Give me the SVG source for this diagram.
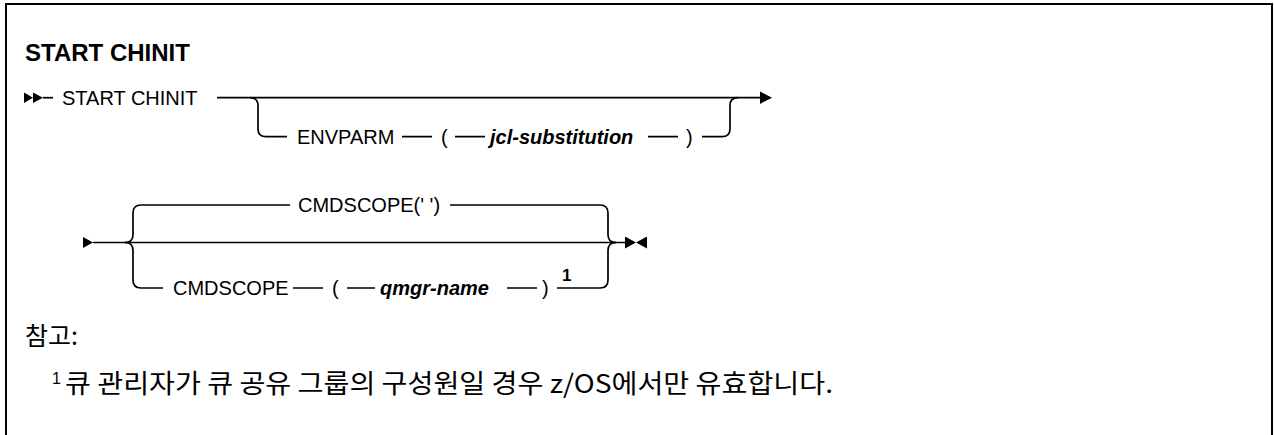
<svg xmlns="http://www.w3.org/2000/svg" width="1274" height="435" viewBox="0 0 1274 435">
<style>
.t{font-family:"Liberation Sans","Noto Sans",Arial,sans-serif;font-size:20px;fill:#000}
.v{font-family:"Liberation Sans","Noto Sans",Arial,sans-serif;font-size:20px;font-weight:bold;font-style:italic;fill:#000}
.ti{font-family:"Liberation Sans","Noto Sans",Arial,sans-serif;font-size:24px;font-weight:bold;fill:#000}
.k{font-family:"Noto Sans CJK KR","Liberation Sans",sans-serif;font-size:25px;fill:#000}
.kf{font-family:"Noto Sans CJK KR","Liberation Sans",sans-serif;font-size:26px;fill:#000}
.sup{font-family:"Liberation Sans","Noto Sans",Arial,sans-serif;font-size:16px;fill:#000}
.supb{font-family:"Liberation Sans","Noto Sans",Arial,sans-serif;font-size:17px;font-weight:bold;fill:#000}
.ln{fill:none;stroke:#000;stroke-width:1.7}
.ah{fill:#000}
</style>
<path d="M6,436 L6,4 L1272,4 L1272,436" fill="none" stroke="#000" stroke-width="2"/>
<text class="ti" x="25" y="61">START CHINIT</text>

<g id="row1">
  <g id="start">
    <polygon class="ah" points="24,92.5 33,97.7 24,102.9"/>
    <polygon class="ah" points="33,92.5 43,97.7 33,102.9"/>
    <text class="t" x="62" y="104.5">START CHINIT</text>
  </g>
  <g id="envparm">
    <text class="t" x="297" y="143.5">ENVPARM</text>
    <text class="t" x="441" y="143.5">(</text>
    <text class="v" x="490" y="143.5">jcl-substitution</text>
    <text class="t" x="686" y="143.5">)</text>
  </g>
  <g id="end1">
    <polygon class="ah" points="760,91.5 772,97.7 760,103.9"/>
  </g>
</g>

<g id="row2">
  <g id="start2">
    <polygon class="ah" points="83,237 93,242.5 83,248"/>
  </g>
  <g id="cmdscope-default">
    <text class="t" x="298" y="212">CMDSCOPE(' ')</text>
  </g>
  <g id="cmdscope">
    <text class="t" x="173" y="295">CMDSCOPE</text>
    <text class="t" x="332" y="295">(</text>
    <text class="v" x="380" y="295">qmgr-name</text>
    <text class="t" x="542" y="295">)</text>
    <text class="supb" x="562" y="281">1</text>
  </g>
  <g id="end2">
    <polygon class="ah" points="625,236.5 636,242.5 625,248.5"/>
    <polygon class="ah" points="647,236.5 636,242.5 647,248.5"/>
  </g>
</g>

<g id="connectors">
  <path class="ln" d="M43,97.7 H53"/>
  <path class="ln" d="M217,97.7 H761"/>
  <path class="ln" d="M250,97.7 Q258,97.7 258,105.7 V128.7 Q258,136.7 266,136.7 H287"/>
  <path class="ln" d="M402,136.7 H432 M455,136.7 H485 M648,136.7 H678"/>
  <path class="ln" d="M702,136.7 H722 Q730,136.7 730,128.7 V105.7 Q730,97.7 738,97.7"/>

  <path class="ln" d="M93,242.5 H626"/>
  <path class="ln" d="M125,242.5 Q133,242.5 133,234.5 V213 Q133,205 141,205 H290"/>
  <path class="ln" d="M125,242.5 Q133,242.5 133,250.5 V280 Q133,288 141,288 H163"/>
  <path class="ln" d="M450,205 H600 Q608,205 608,213 V234.5 Q608,242.5 616,242.5"/>
  <path class="ln" d="M293,288 H323 M347,288 H375 M507,288 H537"/>
  <path class="ln" d="M557,288 H600 Q608,288 608,280 V250.5 Q608,242.5 616,242.5"/>
</g>

<g id="notes">
  <text class="k" x="25" y="345">참고:</text>
  <text class="sup" x="52" y="384">1</text>
  <text class="kf" x="65" y="393" textLength="768" lengthAdjust="spacingAndGlyphs">큐 관리자가 큐 공유 그룹의 구성원일 경우 z/OS에서만 유효합니다.</text>
</g>
</svg>
